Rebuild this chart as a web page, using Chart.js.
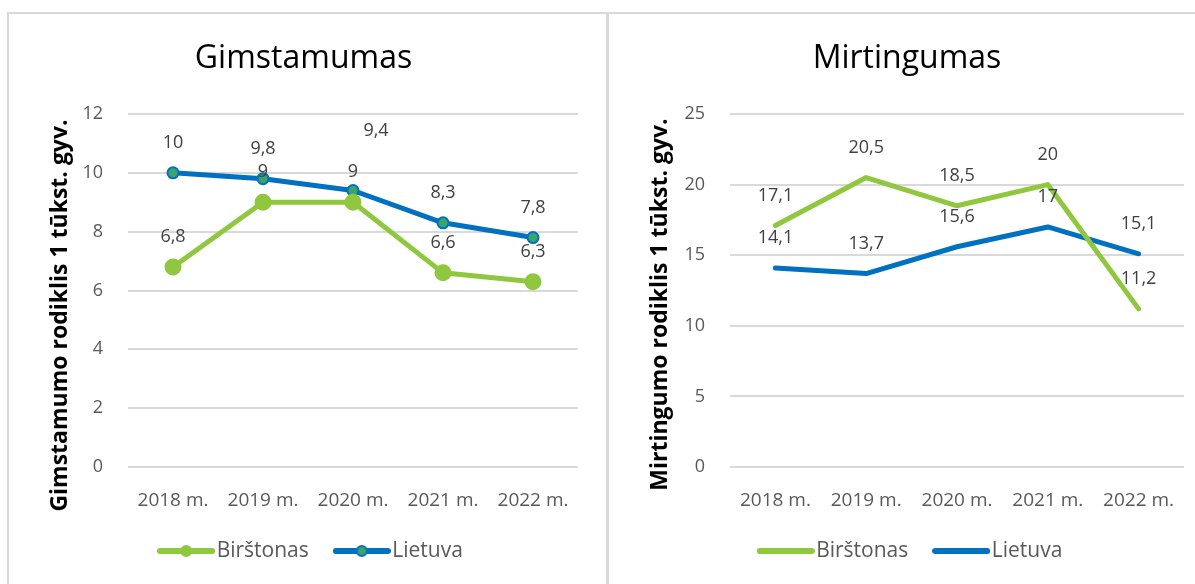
<!DOCTYPE html>
<html>
<head>
<meta charset="utf-8">
<script src="https://cdn.jsdelivr.net/npm/chart.js@4"></script>
<style>
  body { margin: 0; width: 1195px; height: 584px; overflow: hidden; background: #fff; position: relative; }
  .frame { position: absolute; top: 12px; height: 620px; border-top: 2px solid #d9d9d9; }
  #f1 { left: 7px; width: 597px; border-left: 2px solid #d9d9d9; border-right: 3px solid #d9d9d9; }
  #f2 { left: 609px; width: 600px; }
  canvas { position: absolute; top: 14px; }
  #birth { left: 9px; }
  #death { left: 610px; }
</style>
</head>
<body>
<div class="frame" id="f1"></div>
<div class="frame" id="f2"></div>
<canvas id="birth" width="596" height="590"></canvas>
<canvas id="death" width="585" height="590"></canvas>
<script>
const years = ['2018 m.', '2019 m.', '2020 m.', '2021 m.', '2022 m.'];
const birthBirstonas = [6.8, 9, 9, 6.6, 6.3];
const birthLietuva = [10, 9.8, 9.4, 8.3, 7.8];
const deathBirstonas = [17.1, 20.5, 18.5, 20, 11.2];
const deathLietuva = [14.1, 13.7, 15.6, 17, 15.1];

const GREEN = '#8fc73e';
const BLUE = '#0070c0';
const TEAL = '#3aa56a';
const FONT = "'Open Sans', sans-serif";

// value labels above the points, comma as decimal separator
const valueLabels = {
    id: 'valueLabels',
    afterDatasetsDraw(chart, args, opts) {
        const ctx = chart.ctx;
        ctx.save();
        ctx.font = '18px ' + FONT;
        ctx.fillStyle = '#404040';
        ctx.textAlign = 'center';
        ctx.textBaseline = 'middle';
        chart.data.datasets.forEach((ds, i) => {
            chart.getDatasetMeta(i).data.forEach((pt, j) => {
                const s = (opts.shift && opts.shift[i] && opts.shift[i][j]) || [0, -30];
                ctx.fillText(String(ds.data[j]).replace('.', ','), pt.x + s[0], pt.y + s[1]);
            });
        });
        ctx.restore();
    }
};

// rotated y title (Excel puts it a bit below the plot centre) + legend nudge
const sideTitle = {
    id: 'sideTitle',
    afterLayout(chart, args, opts) {
        chart.legend.left += opts.legendDx;
        chart.legend.right += opts.legendDx;
    },
    afterDraw(chart, args, opts) {
        const ctx = chart.ctx;
        const a = chart.chartArea;
        ctx.save();
        ctx.translate(opts.x, (a.top + a.bottom) / 2 + opts.dy);
        ctx.rotate(-Math.PI / 2);
        ctx.font = 'bold 23px ' + FONT;
        ctx.fillStyle = '#000';
        ctx.textAlign = 'center';
        ctx.textBaseline = 'middle';
        ctx.fillText(opts.text, 0, 0);
        ctx.restore();
    }
};

function legendIcon(color, marker, markerFill) {
    const c = document.createElement('canvas');
    c.width = 58; c.height = 14;
    const g = c.getContext('2d');
    g.strokeStyle = color;
    g.lineWidth = 6;
    g.lineCap = 'round';
    g.beginPath(); g.moveTo(3, 7); g.lineTo(55, 7); g.stroke();
    if (marker) {
        g.beginPath(); g.arc(29, 7, 5, 0, Math.PI * 2);
        g.fillStyle = markerFill; g.fill();
        g.lineWidth = 2; g.strokeStyle = color; g.stroke();
    }
    return c;
}

function makeChart(id, title, yTitle, series, yMax, step, icons, markers, padR, axisW, side, shift) {
    return new Chart(document.getElementById(id), {
        type: 'line',
        data: {
            labels: years,
            datasets: [
                {
                    label: 'Birštonas', data: series[0], borderColor: GREEN, borderWidth: 5,
                    pointRadius: markers ? 6 : 0, pointBackgroundColor: GREEN, pointBorderColor: GREEN,
                    borderJoinStyle: 'round', borderCapStyle: 'round', tension: 0
                },
                {
                    label: 'Lietuva', data: series[1], borderColor: BLUE, borderWidth: 5,
                    pointRadius: markers ? 5.5 : 0, pointBackgroundColor: TEAL, pointBorderColor: BLUE, pointBorderWidth: 2,
                    borderJoinStyle: 'round', borderCapStyle: 'round', tension: 0
                }
            ]
        },
        options: {
            responsive: false,
            animation: false,
            layout: { padding: { left: 20, right: padR, top: 0, bottom: 32.5 } },
            scales: {
                x: {
                    offset: true,
                    grid: { display: false },
                    border: { display: false },
                    ticks: { color: '#595959', font: { family: FONT, size: 19 }, padding: 14 },
                    afterFit(axis) { axis.height = 40.5; }
                },
                y: {
                    min: 0, max: yMax,
                    ticks: { stepSize: step, color: '#595959', font: { family: FONT, size: 18 }, padding: 25 },
                    grid: { color: '#d9d9d9', lineWidth: 2, drawTicks: false },
                    border: { display: false },
                    afterFit(axis) { axis.width = axisW; }
                }
            },
            plugins: {
                title: {
                    display: true, text: title, color: '#000',
                    font: { family: FONT, size: 32, weight: 'normal' },
                    padding: { top: 26, bottom: 35.6 }
                },
                legend: {
                    position: 'bottom',
                    labels: {
                        usePointStyle: true,
                        pointStyleWidth: 40,
                        padding: 33,
                        color: '#595959',
                        font: { family: FONT, size: 21 },
                        generateLabels(chart) {
                            const items = Chart.defaults.plugins.legend.labels.generateLabels(chart);
                            items.forEach((it, k) => { it.pointStyle = icons[k]; });
                            return items;
                        }
                    }
                },
                tooltip: { enabled: false },
                valueLabels: { shift: shift },
                sideTitle: Object.assign({ text: yTitle }, side)
            }
        },
        plugins: [valueLabels, sideTitle]
    });
}

makeChart('birth', 'Gimstamumas', 'Gimstamumo rodiklis 1 tūkst. gyv.',
    [birthBirstonas, birthLietuva], 12, 2,
    [legendIcon(GREEN, true, GREEN), legendIcon(BLUE, true, TEAL)], true,
    27, 99, { x: 51, dy: 25, legendDx: 11 }, { 1: { 2: [23, -60] } });

makeChart('death', 'Mirtingumas', 'Mirtingumo rodiklis 1 tūkst. gyv.',
    [deathBirstonas, deathLietuva], 25, 5,
    [legendIcon(GREEN, false), legendIcon(BLUE, false)], false,
    11, 100, { x: 50, dy: 14, legendDx: 7 }, {});
</script>
</body>
</html>
